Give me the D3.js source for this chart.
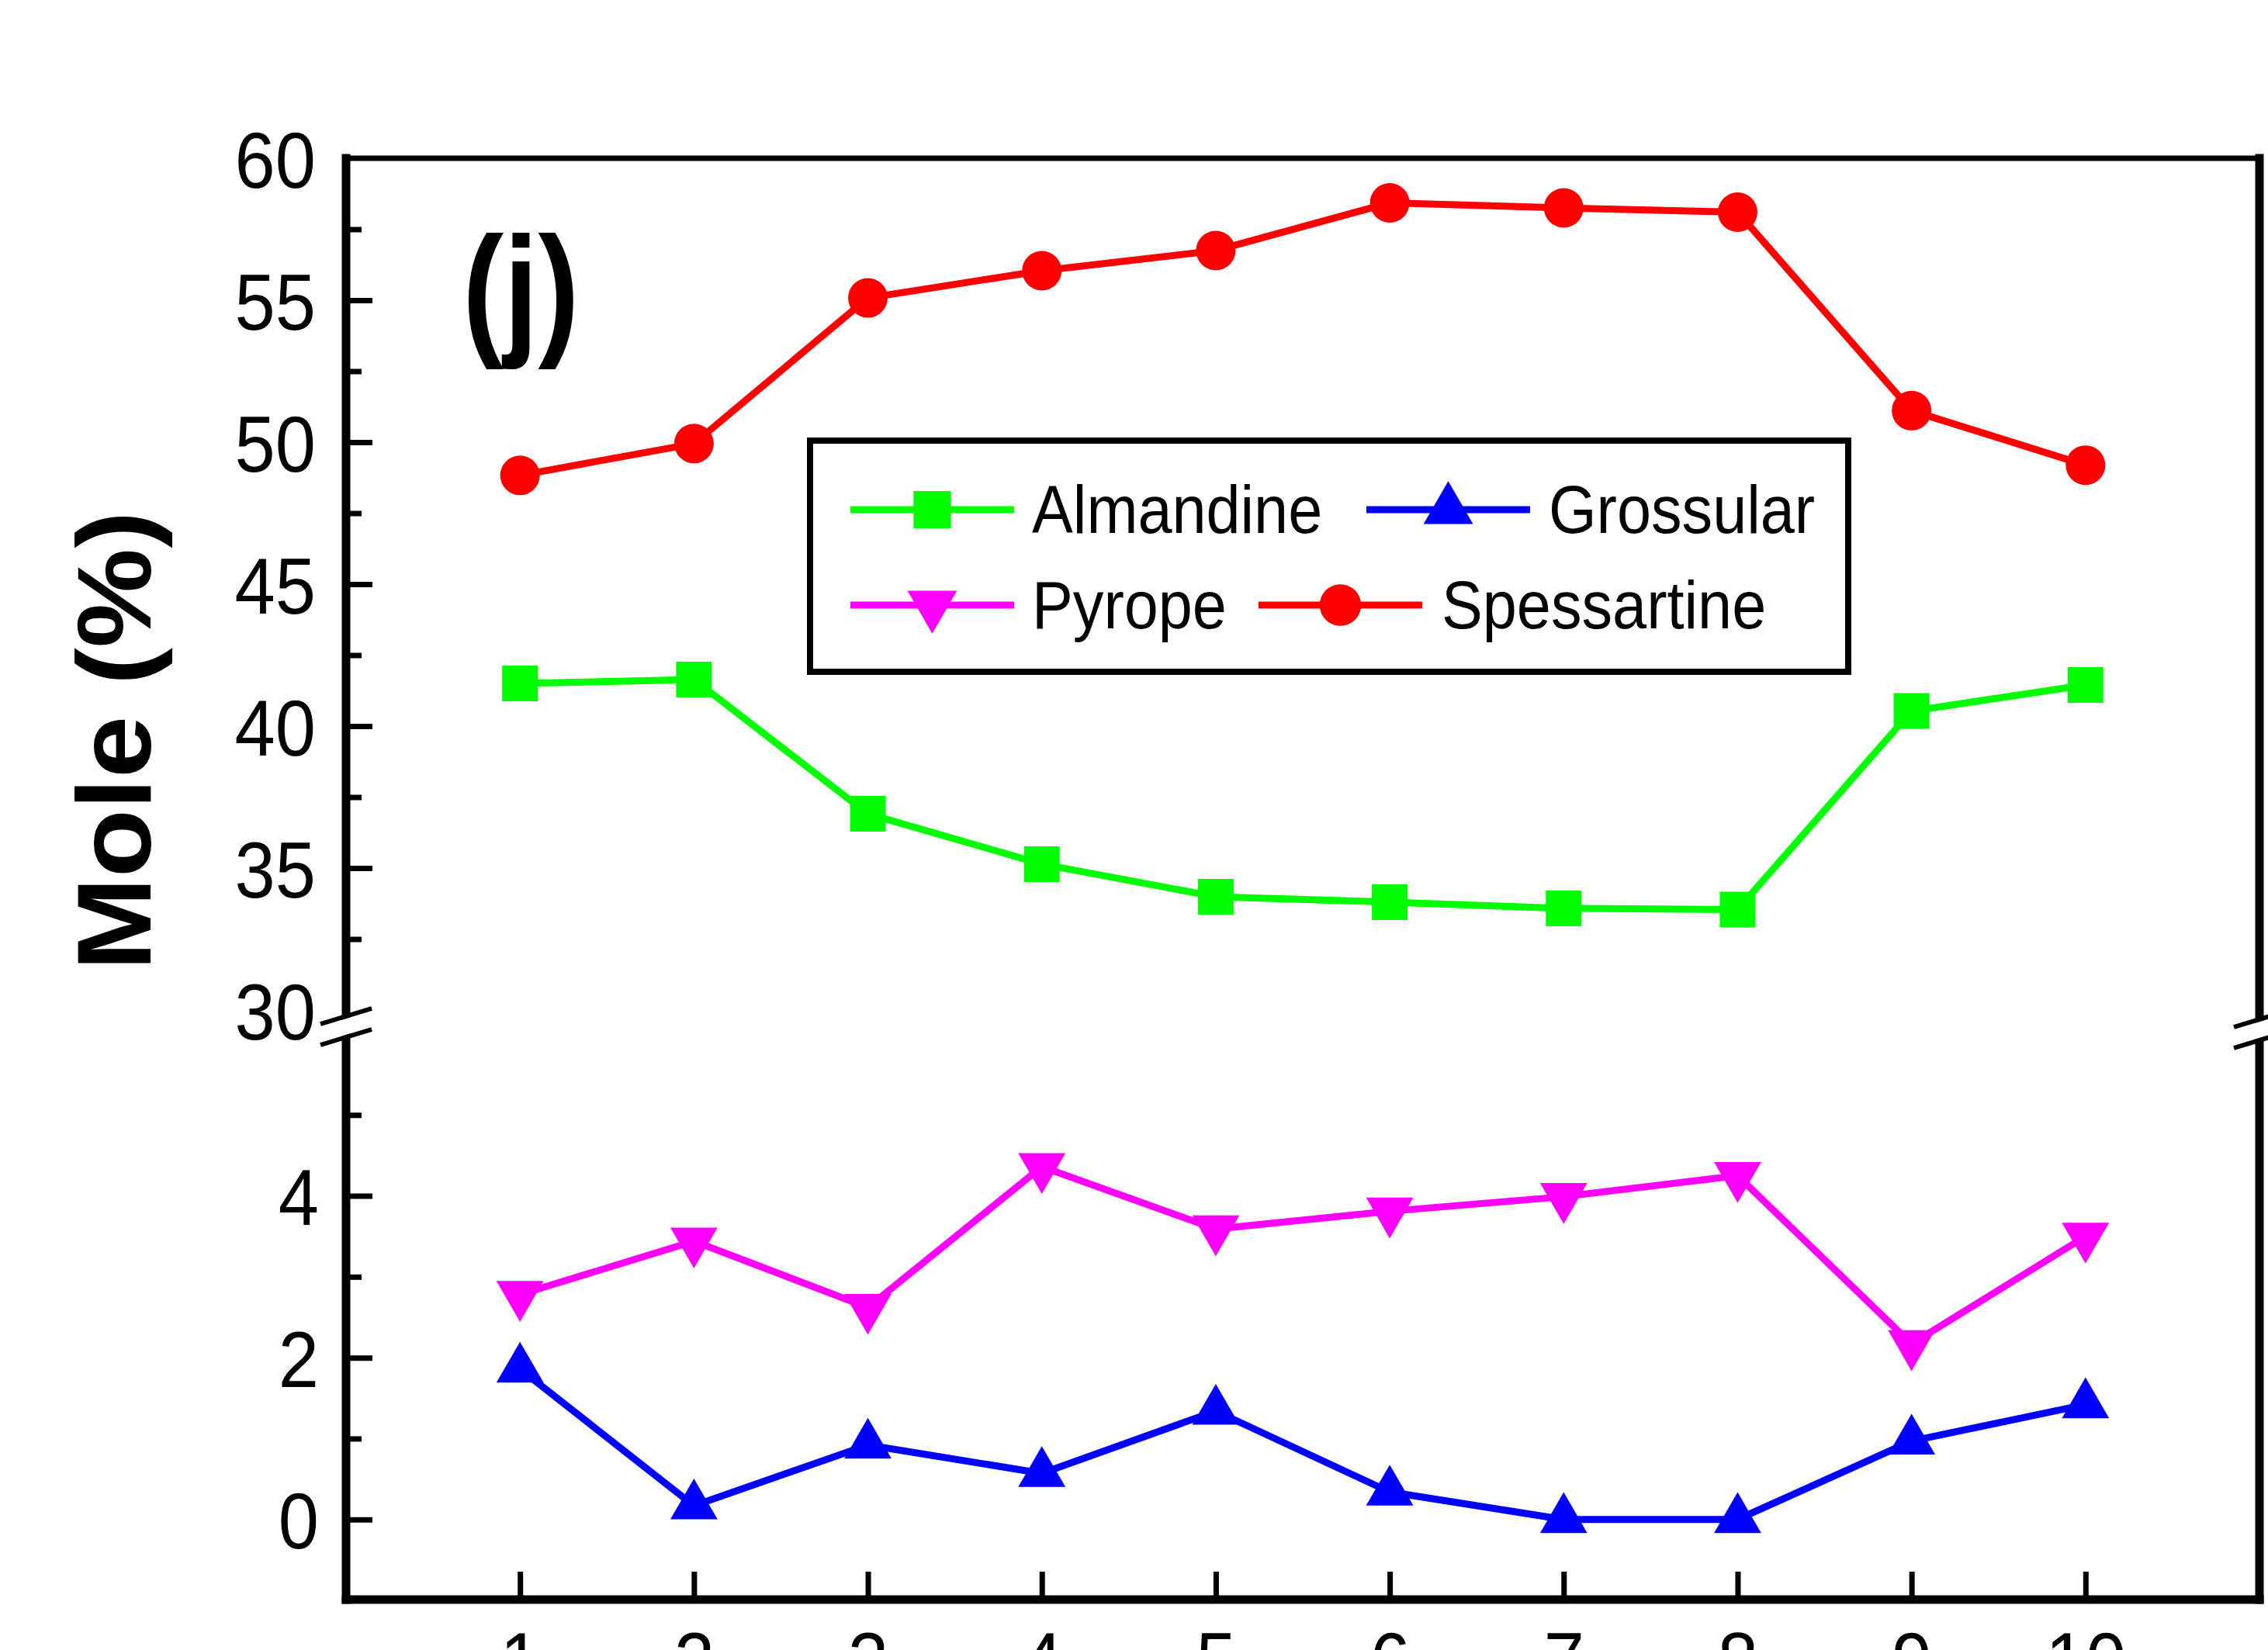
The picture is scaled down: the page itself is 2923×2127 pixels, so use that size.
<!DOCTYPE html>
<html><head><meta charset="utf-8">
<script src="https://cdn.jsdelivr.net/npm/d3@7"></script>
<style>html,body{margin:0;padding:0;background:#fff;overflow:hidden}</style>
</head><body><svg id="c"></svg>
<script>
// ---------------- data ----------------
const points = [1, 2, 3, 4, 5, 6, 7, 8, 9, 10];
const almandine   = [41.5, 41.64, 36.91, 35.14, 33.99, 33.80, 33.58, 33.54, 40.53, 41.45];
const spessartine = [48.83, 49.95, 55.08, 56.04, 56.75, 58.43, 58.25, 58.10, 51.11, 49.19];
const pyrope      = [2.78, 3.44, 2.62, 4.36, 3.59, 3.81, 3.99, 4.25, 2.17, 3.50];
const grossular   = [1.86, 0.17, 0.92, 0.57, 1.34, 0.34, 0.0, 0.0, 0.97, 1.42];
const upperTicks = [30, 35, 40, 45, 50, 55, 60];
const upperMinor = [32.5, 37.5, 42.5, 47.5, 52.5, 57.5];
const lowerTicks = [0, 2, 4];
const lowerMinor = [1, 3, 5];
const xTicks = points;
const seriesNames = ["Almandine", "Grossular", "Pyrope", "Spessartine"];
const yTitle = "Mole (%)";
const panelLabel = "(j)";

// ---------------- setup ----------------
const W = 2923, H = 2127;
const FONT = "'Liberation Sans', Arial, Helvetica, sans-serif";
const svg = d3.select("#c").attr("width", W).attr("height", H)
  .style("font-family", FONT);
svg.append("rect").attr("width", W).attr("height", H).attr("fill", "#fff");

const xL = 446, xR = 2912, yTop = 204, yBot = 2062;
const x  = d3.scaleLinear().domain([0, 11]).range([xL, xR]);
const yU = d3.scaleLinear().domain([30, 60]).range([1302, yTop]);
const yLo = d3.scaleLinear().domain([-1, 6]).range([2063, 1333]);

// ---------------- axes ----------------
function styleAxis(g, pad, isX) {
  g.attr("font-family", FONT).attr("font-size", 102);
  g.select(".domain").remove();
  g.selectAll(".tick line").attr("stroke", "#000").attr("stroke-width", 7);
  g.selectAll(".tick text").attr("fill", "#000").attr("x", null).attr("y", null).attr("dy", null)
    .attr("transform", isX ? `translate(0,${pad}) scale(0.92,1)` : `translate(${-pad},37) scale(0.92,1)`);
}

const gUM = svg.append("g").attr("transform", `translate(${xL},0)`)
  .call(d3.axisLeft(yU).tickValues(upperMinor).tickSize(-20).tickFormat(""));
styleAxis(gUM, 0, false);
const gU = svg.append("g").attr("transform", `translate(${xL},0)`)
  .call(d3.axisLeft(yU).tickValues(upperTicks).tickSize(-34).tickPadding(39).tickFormat(d3.format("d")));
styleAxis(gU, 39, false);
gU.selectAll(".tick line").filter(d => d === 30 || d === 60).remove();

const gLM = svg.append("g").attr("transform", `translate(${xL},0)`)
  .call(d3.axisLeft(yLo).tickValues(lowerMinor).tickSize(-20).tickFormat(""));
styleAxis(gLM, 0, false);
const gL = svg.append("g").attr("transform", `translate(${xL},0)`)
  .call(d3.axisLeft(yLo).tickValues(lowerTicks).tickSize(-34).tickPadding(35).tickFormat(d3.format("d")));
styleAxis(gL, 35, false);

const gX = svg.append("g").attr("transform", `translate(0,${yBot})`)
  .call(d3.axisBottom(x).tickValues(xTicks).tickSize(-36).tickPadding(40).tickFormat(d3.format("d")));
styleAxis(gX, 114, true);

// ---------------- frame ----------------
const frame = svg.append("g").attr("stroke", "#000").attr("stroke-linecap", "square");
frame.append("line").attr("x1", xL).attr("x2", xR).attr("y1", yTop).attr("y2", yTop).attr("stroke-width", 7);
frame.append("line").attr("x1", xL).attr("x2", xL).attr("y1", yTop).attr("y2", yBot).attr("stroke-width", 11);
frame.append("line").attr("x1", xR).attr("x2", xR).attr("y1", yTop).attr("y2", yBot).attr("stroke-width", 11);
frame.append("line").attr("x1", xL).attr("x2", xR).attr("y1", yBot).attr("y2", yBot).attr("stroke-width", 11);

// axis break marks
function breakMark(cx, yb1, yb2) {
  const dx = 33, dy = 10;
  svg.append("path")
    .attr("d", `M${cx - dx},${yb1 + dy + 3}L${cx + dx},${yb1 - dy + 3}L${cx + dx},${yb2 - dy - 3}L${cx - dx},${yb2 + dy - 3}Z`)
    .attr("fill", "#fff");
  [yb1, yb2].forEach(yb => {
    svg.append("line").attr("x1", cx - dx).attr("y1", yb + dy).attr("x2", cx + dx).attr("y2", yb - dy)
      .attr("stroke", "#000").attr("stroke-width", 6);
  });
}
breakMark(xL, 1310, 1337);
breakMark(xR, 1314, 1341);

// ---------------- series ----------------
const series = [
  { name: seriesNames[0], values: almandine,   y: yU,  color: "#00ff00", type: d3.symbolSquare,   size: 46 * 46, rot: 0 },
  { name: seriesNames[1], values: grossular,   y: yLo, color: "#0000ff", type: d3.symbolTriangle, size: 1600,    rot: 0 },
  { name: seriesNames[2], values: pyrope,      y: yLo, color: "#ff00ff", type: d3.symbolTriangle, size: 1600,    rot: 180 },
  { name: seriesNames[3], values: spessartine, y: yU,  color: "#ff0000", type: d3.symbolCircle,   size: Math.PI * 25.5 * 25.5, rot: 0 }
];

series.forEach(s => {
  const line = d3.line().x((d, i) => x(points[i])).y(d => s.y(d));
  svg.append("path").attr("d", line(s.values)).attr("fill", "none")
    .attr("stroke", s.color).attr("stroke-width", 9).attr("stroke-linejoin", "round");
  svg.append("g").selectAll("path").data(s.values).join("path")
    .attr("d", d3.symbol().type(s.type).size(s.size)())
    .attr("transform", (d, i) => `translate(${x(points[i])},${s.y(d)}) rotate(${s.rot})`)
    .attr("fill", s.color);
});

// ---------------- legend ----------------
const leg = svg.append("g");
leg.append("rect").attr("x", 1044).attr("y", 568).attr("width", 1338).attr("height", 298)
  .attr("fill", "#fff").attr("stroke", "#000").attr("stroke-width", 8);
const legLayout = [
  { x1: 1096, x2: 1307, ty: 657, tx: 1330 },
  { x1: 1761, x2: 1972, ty: 657, tx: 1996 },
  { x1: 1096, x2: 1307, ty: 780, tx: 1330 },
  { x1: 1622, x2: 1833, ty: 780, tx: 1858 }
];
series.forEach((s, i) => {
  const L = legLayout[i];
  const cx = (L.x1 + L.x2) / 2;
  leg.append("line").attr("x1", L.x1).attr("x2", L.x2).attr("y1", L.ty).attr("y2", L.ty)
    .attr("stroke", s.color).attr("stroke-width", 9);
  leg.append("path").attr("d", d3.symbol().type(s.type).size(s.size * 1.1)())
    .attr("transform", `translate(${cx},${L.ty}) rotate(${s.rot})`).attr("fill", s.color);
  leg.append("text").attr("transform", `translate(${L.tx},${L.ty + 30}) scale(0.9,1)`)
    .attr("font-size", 88).attr("fill", "#000").text(s.name);
});

// ---------------- titles ----------------
svg.append("text").attr("transform", "translate(194,955) rotate(-90) scale(1.06,1)")
  .attr("text-anchor", "middle").attr("font-size", 136).attr("font-weight", "bold")
  .attr("fill", "#000").text(yTitle);
svg.append("text").attr("transform", "translate(596,437) scale(0.84,1)")
  .attr("font-size", 190).attr("font-weight", "bold").attr("fill", "#000").text(panelLabel);
</script>
</body></html>
